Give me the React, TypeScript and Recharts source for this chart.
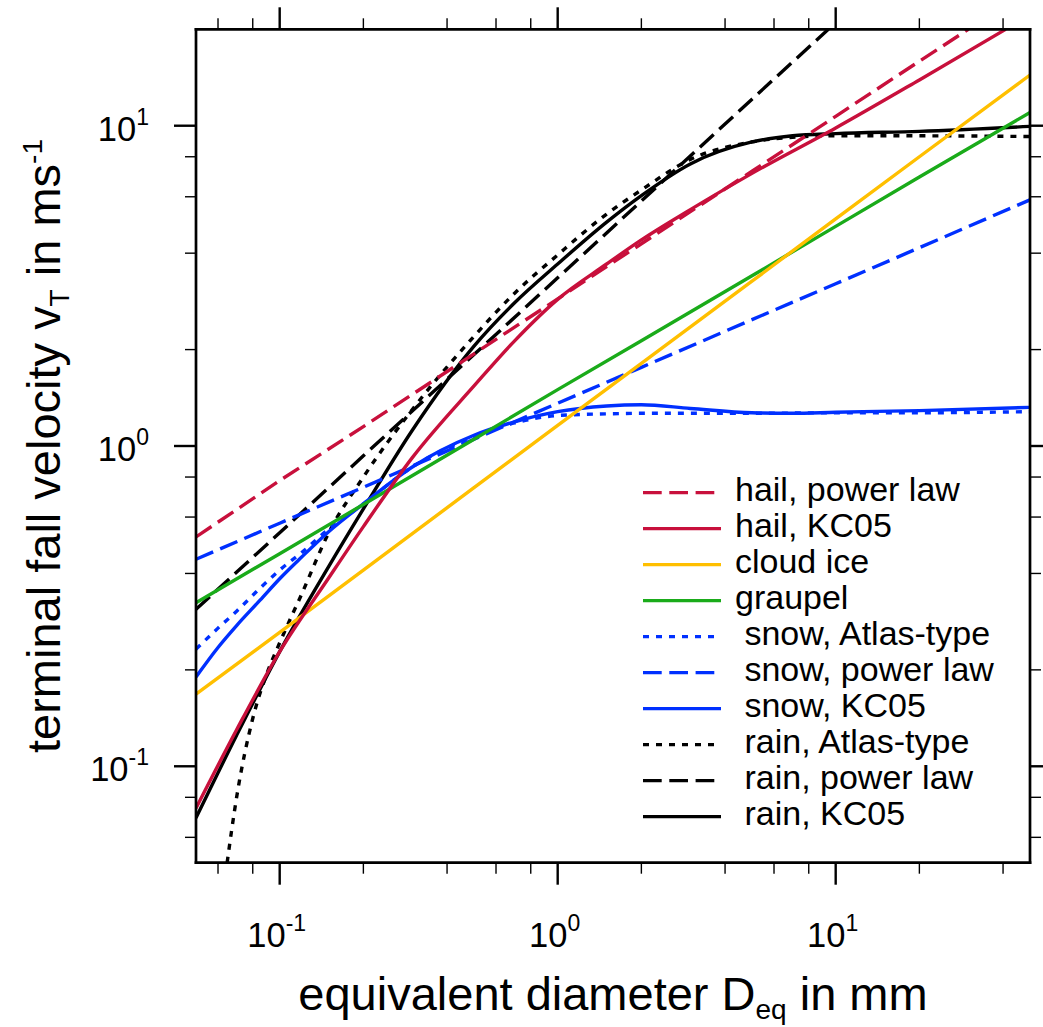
import React from "react";
import { LineChart, Line, XAxis, YAxis, Legend } from "recharts";

// equivalent diameter (mm) / fall speed (m/s) pairs
const hailPowerD = [0.05, 0.1, 0.2, 0.5, 1, 2, 5, 10, 20, 30];
const hailPowerV = [0.52, 0.78, 1.15, 1.94, 2.88, 4.28, 7.21, 10.7, 15.9, 20];

const hailKcD = [0.05, 0.07, 0.1, 0.15, 0.2, 0.3, 0.5, 0.7, 1, 1.5, 2, 3, 5, 10, 20, 40.9];
const hailKcV = [0.074, 0.13, 0.228, 0.387, 0.56, 0.92, 1.54, 2.13, 2.87, 3.7, 4.4, 5.47, 7.1, 9.84, 13.9, 20];

const cloudIceD = [0.05, 0.1, 0.2, 0.5, 1, 2, 5, 10, 20, 50];
const cloudIceV = [0.168, 0.262, 0.41, 0.741, 1.16, 1.81, 3.27, 5.12, 8.0, 14.4];

const graupelD = [0.05, 0.1, 0.2, 0.5, 1, 2, 5, 10, 20, 50];
const graupelV = [0.324, 0.461, 0.657, 1.05, 1.5, 2.13, 3.4, 4.85, 6.92, 11.0];

const snowAtlasD = [0.05, 0.06, 0.07, 0.085, 0.1, 0.12, 0.15, 0.2, 0.3, 0.5, 0.7, 1, 1.5, 2, 5, 10, 20, 50];
const snowAtlasV = [0.232, 0.27, 0.305, 0.36, 0.41, 0.465, 0.55, 0.66, 0.86, 1.07, 1.18, 1.245, 1.26, 1.265, 1.265, 1.27, 1.27, 1.28];

const snowPowerD = [0.05, 0.1, 0.2, 0.5, 1, 2, 5, 10, 20, 50];
const snowPowerV = [0.443, 0.574, 0.743, 1.05, 1.36, 1.76, 2.48, 3.21, 4.16, 5.87];

const snowKcD = [0.05, 0.06, 0.07, 0.085, 0.1, 0.12, 0.15, 0.2, 0.3, 0.5, 0.7, 1, 1.5, 2, 3, 5, 7, 10, 20, 50];
const snowKcV = [0.19, 0.235, 0.275, 0.33, 0.385, 0.45, 0.54, 0.66, 0.86, 1.08, 1.19, 1.28, 1.333, 1.345, 1.31, 1.27, 1.265, 1.275, 1.29, 1.32];

const rainAtlasD = [0.0647, 0.07, 0.08, 0.09, 0.1, 0.12, 0.15, 0.2, 0.3, 0.5, 0.7, 1, 1.5, 2, 3, 5, 7, 10, 20, 50];
const rainAtlasV = [0.05, 0.08, 0.141, 0.195, 0.243, 0.345, 0.535, 0.8, 1.3, 2.2, 3.0, 3.95, 5.3, 6.3, 7.85, 8.9, 9.2, 9.3, 9.3, 9.25];

const rainPowerD = [0.05, 0.1, 0.2, 0.5, 1, 2, 5, 9.41];
const rainPowerV = [0.309, 0.536, 0.932, 1.93, 3.35, 5.82, 12.1, 20];

const rainKcD = [0.05, 0.07, 0.1, 0.15, 0.2, 0.3, 0.5, 0.7, 1, 1.5, 2, 3, 5, 7, 10, 20, 50];
const rainKcV = [0.069, 0.125, 0.228, 0.42, 0.636, 1.12, 2.05, 2.8, 3.7, 5.0, 6.05, 7.6, 8.9, 9.3, 9.45, 9.6, 9.95];

const xTicks = [0.06, 0.08, 0.1, 0.2, 0.4, 0.6, 0.8, 1, 2, 4, 6, 8, 10, 20, 40];
const yTicks = [0.06, 0.08, 0.1, 0.2, 0.4, 0.6, 0.8, 1, 2, 4, 6, 8, 10];
const majorTicks = [0.1, 1, 10];

const W = 1043;
const H = 1027;
const PLOT = { left: 196, top: 29.3, right: 1030, bottom: 862.7 };
const FONT = '"Liberation Sans", Arial, Helvetica, sans-serif';

const HAIL = "#c8103c";
const ICE = "#ffbf00";
const GRAUPEL = "#1aab1a";
const SNOW = "#0030ff";
const RAIN = "#000000";
const DASH = "18.7 7.6";
const DOT = "6 7";

type Curve = "linear" | "monotone";
interface Series {
  label: string;
  d: number[];
  v: number[];
  color: string;
  dash?: string;
  curve: Curve;
}

const series: Series[] = [
  { label: "hail, power law", d: hailPowerD, v: hailPowerV, color: HAIL, dash: DASH, curve: "linear" },
  { label: "hail, KC05", d: hailKcD, v: hailKcV, color: HAIL, curve: "monotone" },
  { label: "cloud ice", d: cloudIceD, v: cloudIceV, color: ICE, curve: "linear" },
  { label: "graupel", d: graupelD, v: graupelV, color: GRAUPEL, curve: "linear" },
  { label: " snow, Atlas-type", d: snowAtlasD, v: snowAtlasV, color: SNOW, dash: DOT, curve: "monotone" },
  { label: " snow, power law", d: snowPowerD, v: snowPowerV, color: SNOW, dash: DASH, curve: "linear" },
  { label: " snow, KC05", d: snowKcD, v: snowKcV, color: SNOW, curve: "monotone" },
  { label: " rain, Atlas-type", d: rainAtlasD, v: rainAtlasV, color: RAIN, dash: DOT, curve: "monotone" },
  { label: " rain, power law", d: rainPowerD, v: rainPowerV, color: RAIN, dash: DASH, curve: "linear" },
  { label: " rain, KC05", d: rainKcD, v: rainKcV, color: RAIN, curve: "monotone" },
];

const toPoints = (d: number[], v: number[]) => d.map((x, i) => ({ d: x, v: v[i] }));

const exponent = (value: number) => String(Math.round(Math.log10(value)));

const makeTick = (side: "bottom" | "top" | "left" | "right") => (props: any) => {
  const { x, y, payload } = props;
  const value = payload.value;
  const major = majorTicks.some((m) => Math.abs(m - value) < 1e-9);
  const len = major ? 22 : 11;
  const sw = major ? 2.4 : 1.4;
  let line;
  if (side === "bottom") line = <line x1={x} x2={x} y1={y} y2={y + len} stroke="#000" strokeWidth={sw} />;
  else if (side === "top") line = <line x1={x} x2={x} y1={y} y2={y - len} stroke="#000" strokeWidth={sw} />;
  else if (side === "left") line = <line x1={x} x2={x - len} y1={y} y2={y} stroke="#000" strokeWidth={sw} />;
  else line = <line x1={x} x2={x + len} y1={y} y2={y} stroke="#000" strokeWidth={sw} />;

  let label = null;
  if (major && side === "bottom") {
    label = (
      <text x={x - 3} y={y + 84} textAnchor="middle" fontSize={34.5} fontFamily={FONT} fill="#000">
        10<tspan dy={-16} fontSize={23}>{exponent(value)}</tspan>
      </text>
    );
  } else if (major && side === "left") {
    label = (
      <text x={x - 47} y={y + 15} textAnchor="end" fontSize={34.5} fontFamily={FONT} fill="#000">
        10<tspan dy={-16} fontSize={23}>{exponent(value)}</tspan>
      </text>
    );
  }
  return (
    <g>
      {line}
      {label}
    </g>
  );
};

const renderXTitle = () => (
  <text x={(PLOT.left + PLOT.right) / 2} y={PLOT.bottom + 147} textAnchor="middle" fontSize={47} fontFamily={FONT} fill="#000">
    equivalent diameter D<tspan dy={9} fontSize={28}>eq</tspan>
    <tspan dy={-9}> in mm</tspan>
  </text>
);

const renderYTitle = () => {
  const cx = 60;
  const cy = (PLOT.top + PLOT.bottom) / 2;
  return (
    <text x={cx} y={cy} transform={`rotate(-90, ${cx}, ${cy})`} textAnchor="middle" fontSize={47} fontFamily={FONT} fill="#000">
      terminal fall velocity v<tspan dy={9} fontSize={28}>T</tspan>
      <tspan dy={-9}> in ms</tspan>
      <tspan dy={-18} fontSize={28}>-1</tspan>
    </text>
  );
};

const renderLegend = () => (
  <svg width={413} height={370} style={{ display: "block" }}>
    {series.map((s, i) => {
      const cy = 22.7 + i * 36;
      return (
        <g key={s.label}>
          <line x1={13} x2={91} y1={cy} y2={cy} stroke={s.color} strokeWidth={3.3} strokeDasharray={s.dash} />
          <text x={105} y={cy + 8} fontSize={34} fontFamily={FONT} fill="#000" style={{ whiteSpace: "pre" }}>
            {s.label}
          </text>
        </g>
      );
    })}
  </svg>
);

const frame = { stroke: "#000", strokeWidth: 2.7, strokeLinecap: "square" as const };

export default function App() {
  return (
    <div style={{ position: "absolute", left: 0, top: 0, width: W, height: H, background: "#fff" }}>
      <LineChart width={W} height={H} margin={{ top: 0, right: 0, bottom: 0, left: 0 }}>
        <XAxis
          xAxisId="bottom"
          orientation="bottom"
          type="number"
          dataKey="d"
          scale="log"
          domain={[0.05, 50]}
          allowDataOverflow
          ticks={xTicks}
          interval={0}
          height={H - PLOT.bottom}
          tickSize={0}
          tickMargin={0}
          tickLine={false}
          axisLine={frame}
          tick={makeTick("bottom")}
          label={renderXTitle}
        />
        <XAxis
          xAxisId="top"
          orientation="top"
          type="number"
          dataKey="d"
          scale="log"
          domain={[0.05, 50]}
          allowDataOverflow
          ticks={xTicks}
          interval={0}
          height={PLOT.top}
          tickSize={0}
          tickMargin={0}
          tickLine={false}
          axisLine={frame}
          tick={makeTick("top")}
        />
        <YAxis
          yAxisId="left"
          orientation="left"
          type="number"
          scale="log"
          domain={[0.05, 20]}
          allowDataOverflow
          ticks={yTicks}
          interval={0}
          width={PLOT.left}
          tickSize={0}
          tickMargin={0}
          tickLine={false}
          axisLine={frame}
          tick={makeTick("left")}
          label={renderYTitle}
        />
        <YAxis
          yAxisId="right"
          orientation="right"
          type="number"
          scale="log"
          domain={[0.05, 20]}
          allowDataOverflow
          ticks={yTicks}
          interval={0}
          width={W - PLOT.right}
          tickSize={0}
          tickMargin={0}
          tickLine={false}
          axisLine={frame}
          tick={makeTick("right")}
        />
        <Legend
          layout="vertical"
          align="center"
          verticalAlign="middle"
          content={renderLegend}
          wrapperStyle={{ left: 630, top: 470, width: 413, height: 370 }}
        />
        {[...series].reverse().map((s) => (
          <Line
            key={s.label}
            xAxisId="bottom"
            yAxisId="left"
            data={toPoints(s.d, s.v)}
            dataKey="v"
            name={s.label}
            type={s.curve}
            stroke={s.color}
            strokeWidth={3.4}
            strokeDasharray={s.dash}
            dot={false}
            activeDot={false}
            isAnimationActive={false}
          />
        ))}
      </LineChart>
    </div>
  );
}
